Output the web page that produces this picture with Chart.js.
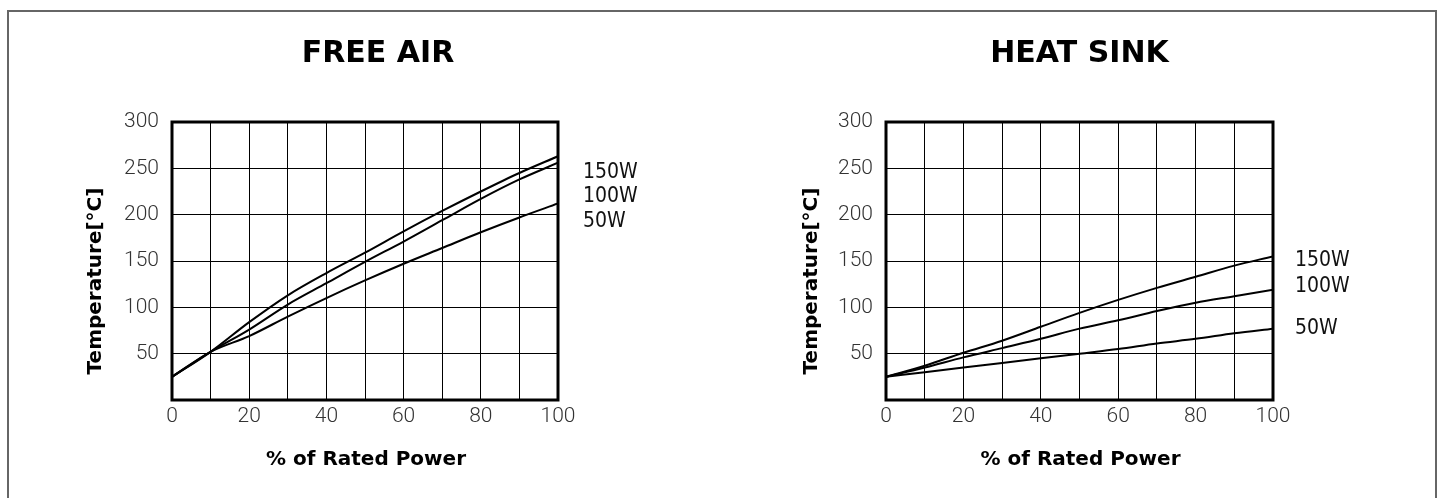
<!DOCTYPE html>
<html>
<head>
<meta charset="utf-8">
<script src="https://cdn.jsdelivr.net/npm/chart.js@4.4.1/dist/chart.umd.min.js"></script>
<style>
  html, body { margin: 0; padding: 0; background: #fff; width: 1443px; height: 498px; overflow: hidden; }
  #frame { position: absolute; left: 7px; top: 10px; width: 1426px; height: 520px;
           border: 2px solid #666; border-bottom: none; }
  .wrap { position: absolute; top: 0; }
  #w1 { left: 0; width: 720px; height: 498px; }
  #w2 { left: 720px; width: 723px; height: 498px; }
</style>
</head>
<body>
<div id="frame"></div>
<div class="wrap" id="w1"><canvas id="c1" width="720" height="498"></canvas></div>
<div class="wrap" id="w2"><canvas id="c2" width="723" height="498"></canvas></div>
<script>
// ---- data ----
const ratedPower = [0, 10, 20, 30, 40, 50, 60, 70, 80, 90, 100];
const seriesNames = ['150W', '100W', '50W'];

const freeAir150 = [25, 52, 84, 113, 137, 159, 182, 204, 225, 245, 263];
const freeAir100 = [25, 52, 76, 103, 126, 149, 171, 194, 217, 238, 256];
const freeAir50  = [25, 52, 69, 90, 110, 129, 147, 164, 181, 197, 212];

const heatSink150 = [25, 37, 51, 64, 79, 94, 108, 121, 133, 145, 155];
const heatSink100 = [25, 35, 46, 56, 66, 77, 86, 96, 105, 112, 119];
const heatSink50  = [25, 30, 35, 40, 45, 50, 55, 61, 66, 72, 77];

const xTickLabels = ['0', '20', '40', '60', '80', '100'];
const yTickLabels = ['50', '100', '150', '200', '250', '300'];

const chartTitles = ['FREE AIR', 'HEAT SINK'];
const xAxisTitle = '% of Rated Power';
const yAxisTitle = 'Temperature[°C]';

// ---- helpers ----
function toPoints(arr) { return ratedPower.map((x, i) => ({ x: x, y: arr[i] })); }

const decorPlugin = {
  id: 'decor',
  afterDraw(chart, args, o) {
    const ctx = chart.ctx, a = chart.chartArea, ys = chart.scales.y;
    const cx = (a.left + a.right) / 2;
    ctx.save();
    // plot frame
    ctx.lineWidth = 3;
    ctx.strokeStyle = '#000';
    ctx.strokeRect(a.left, a.top, a.right - a.left, a.bottom - a.top);
    ctx.fillStyle = '#000';
    // title
    ctx.font = 'bold 30px "DejaVu Sans", sans-serif';
    ctx.textAlign = 'center';
    ctx.textBaseline = 'alphabetic';
    ctx.fillText(o.title, cx + o.titleDx, a.top - 60);
    // x axis title
    ctx.font = 'bold 20px "DejaVu Sans", sans-serif';
    ctx.fillText(xAxisTitle, cx + 1, a.bottom + 65);
    // y axis title
    ctx.save();
    ctx.translate(a.left - o.yTitleDx, 281);
    ctx.rotate(-Math.PI / 2);
    ctx.fillText(yAxisTitle, 0, 0);
    ctx.restore();
    // series labels
    ctx.font = '21px "DejaVu Sans Condensed", "DejaVu Sans", sans-serif';
    ctx.textAlign = 'left';
    ctx.textBaseline = 'middle';
    ctx.fillStyle = '#111';
    seriesNames.forEach((t, i) => {
      ctx.fillText(t, a.right + o.labelDx, ys.getPixelForValue(o.labelAt[i]));
    });
    ctx.restore();
  }
};

function makeChart(id, series, title, opts) {
  const tickFont = { family: 'Roboto, "Liberation Sans", sans-serif', size: 21, weight: '300' };
  return new Chart(document.getElementById(id), {
    type: 'line',
    data: {
      datasets: series.map((s, i) => ({
        label: seriesNames[i],
        data: toPoints(s),
        borderColor: '#000',
        borderWidth: 2,
        pointRadius: 0,
        cubicInterpolationMode: 'monotone',
        fill: false
      }))
    },
    options: {
      responsive: false,
      animation: false,
      devicePixelRatio: 1,
      layout: { padding: { left: 0, right: opts.padRight, top: 122, bottom: 0 } },
      plugins: {
        legend: { display: false },
        tooltip: { enabled: false },
        decor: {
          title: title,
          titleDx: opts.titleDx,
          yTitleDx: opts.yTitleDx,
          labelDx: opts.labelDx,
          labelAt: opts.labelAt
        }
      },
      scales: {
        x: {
          type: 'linear',
          min: 0, max: 100,
          afterFit(s) { s.height = 98; },
          border: { display: false },
          grid: { color: '#000', lineWidth: 1, drawTicks: false },
          ticks: {
            stepSize: 10,
            autoSkip: false,
            maxRotation: 0,
            padding: 4,
            color: '#333',
            font: tickFont,
            callback: v => xTickLabels.includes(String(v)) ? String(v) : ''
          }
        },
        y: {
          type: 'linear',
          min: 0, max: 300,
          afterFit(s) { s.width = opts.yWidth; },
          border: { display: false },
          grid: { color: '#000', lineWidth: 1, drawTicks: false },
          ticks: {
            stepSize: 50,
            padding: 13,
            color: '#333',
            font: tickFont,
            callback: v => yTickLabels.includes(String(v)) ? String(v) : ''
          }
        }
      }
    },
    plugins: [decorPlugin]
  });
}

makeChart('c1', [freeAir150, freeAir100, freeAir50], chartTitles[0], {
  yWidth: 172, padRight: 162, titleDx: 13, yTitleDx: 71, labelDx: 25,
  labelAt: [245, 220, 193]
});
makeChart('c2', [heatSink150, heatSink100, heatSink50], chartTitles[1], {
  yWidth: 166, padRight: 170, titleDx: 0, yTitleDx: 69, labelDx: 22,
  labelAt: [150, 122, 77]
});
</script>
</body>
</html>
